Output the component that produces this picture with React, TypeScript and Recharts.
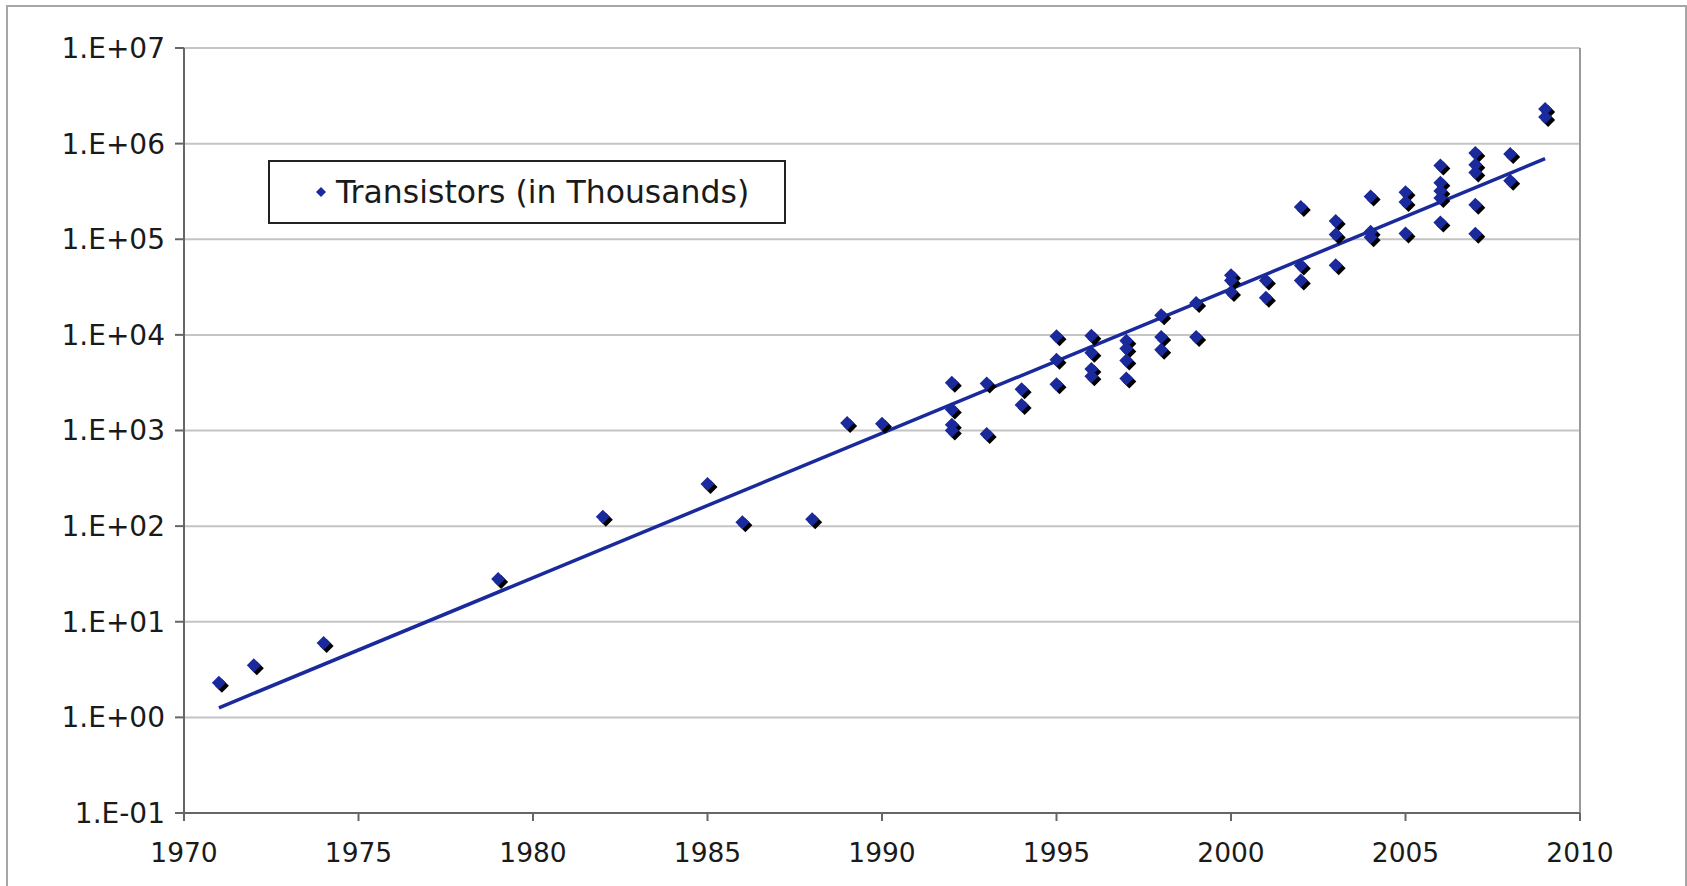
import React from "react";
import {
  ComposedChart,
  Scatter,
  Line,
  XAxis,
  YAxis,
  CartesianGrid,
  ReferenceLine,
} from "recharts";

// transistor counts (thousands), one entry per chip
const chipYears = [
  1971, 1972, 1974, 1979, 1982, 1985, 1986, 1988, 1989, 1990,
  1992, 1992, 1992, 1992, 1993, 1993, 1994, 1994,
  1995, 1995, 1995, 1996, 1996, 1996, 1996,
  1997, 1997, 1997, 1997, 1998, 1998, 1998, 1999, 1999,
  2000, 2000, 2000, 2001, 2001, 2002, 2002, 2002,
  2003, 2003, 2003, 2004, 2004, 2004, 2005, 2005, 2005,
  2006, 2006, 2006, 2006, 2006, 2007, 2007, 2007, 2007, 2007,
  2008, 2008, 2009, 2009,
];
const chipTransistors = [
  2.3, 3.5, 6, 28, 125, 275, 110, 118, 1200, 1180,
  3160, 1660, 1150, 1000, 3100, 920, 2700, 1850,
  9700, 5500, 3050, 9800, 6500, 4400, 3700,
  8700, 7200, 5400, 3500, 16000, 9500, 7000, 21500, 9500,
  42000, 37000, 28000, 37000, 24500, 218000, 53000, 37000,
  155000, 112000, 53500, 280000, 120000, 105000, 310000, 245000, 115000,
  590000, 390000, 320000, 270000, 150000, 800000, 600000, 500000, 230000, 114000,
  780000, 410000, 2300000, 1900000,
];

// exponential trendline ends
const trendYears = [1971, 2009];
const trendValues = [1.26, 695000];

const xTicks = [1970, 1975, 1980, 1985, 1990, 1995, 2000, 2005, 2010];
const yTicks = [0.1, 1, 10, 100, 1000, 10000, 100000, 1000000, 10000000];

const chips = chipYears.map((year, i) => ({ year, value: chipTransistors[i] }));
const trend = trendYears.map((year, i) => ({ year, value: trendValues[i] }));

const FONT = "'DejaVu Sans', Verdana, sans-serif";
const BLUE = "#1a2a9c";

const formatPower = (v: number) => {
  const e = Math.round(Math.log10(v));
  const abs = Math.abs(e);
  return `1.E${e < 0 ? "-" : "+"}${abs < 10 ? "0" + abs : abs}`;
};

const Diamond = (props: any) => {
  const { cx, cy } = props;
  if (cx == null || cy == null) return null;
  const r = 7;
  const path = (x: number, y: number) =>
    `M${x},${y - r} L${x + r},${y} L${x},${y + r} L${x - r},${y} Z`;
  return (
    <g>
      <path d={path(cx + 3, cy + 3)} fill="#000" />
      <path d={path(cx, cy)} fill={BLUE} />
    </g>
  );
};

export default function App() {
  return (
    <div
      style={{
        position: "absolute",
        top: 0,
        left: 0,
        width: 1687,
        height: 886,
        overflow: "hidden",
        background: "#fff",
      }}
    >
      <div
        style={{
          position: "absolute",
          left: 6,
          top: 5,
          width: 1677,
          height: 920,
          border: "2px solid #a6a6a6",
        }}
      />
      <div style={{ position: "absolute", left: 0, top: 0 }}>
        <ComposedChart
          width={1687}
          height={886}
          margin={{ top: 48, right: 107, left: 84, bottom: 23 }}
        >
          <CartesianGrid vertical={false} stroke="#c4c4c4" strokeWidth={2} />
          <XAxis
            dataKey="year"
            type="number"
            domain={[1970, 2010]}
            ticks={xTicks}
            allowDataOverflow
            height={50}
            stroke="#666"
            strokeWidth={2}
            tickSize={8}
            tickMargin={22}
            tick={{ fill: "#1a1a1a", fontSize: 26.5, fontFamily: FONT }}
          />
          <YAxis
            dataKey="value"
            scale="log"
            domain={[0.1, 10000000]}
            ticks={yTicks}
            allowDataOverflow
            width={100}
            stroke="#666"
            strokeWidth={2}
            tickSize={9}
            tickMargin={10}
            tickFormatter={formatPower}
            tick={{ fill: "#1a1a1a", fontSize: 28, fontFamily: FONT }}
          />
          <ReferenceLine x={2010} stroke="#9a9a9a" strokeWidth={2} />
          <Line
            data={trend}
            dataKey="value"
            stroke={BLUE}
            strokeWidth={3.5}
            dot={false}
            isAnimationActive={false}
          />
          <Scatter
            data={chips}
            dataKey="value"
            shape={Diamond}
            isAnimationActive={false}
          />
        </ComposedChart>
      </div>
      <div
        style={{
          position: "absolute",
          left: 268,
          top: 160,
          width: 514,
          height: 60,
          border: "2px solid #222",
          display: "flex",
          alignItems: "center",
          fontFamily: FONT,
          fontSize: 31.5,
          color: "#1a1a1a",
          boxSizing: "content-box",
        }}
      >
        <svg width={12} height={12} style={{ marginLeft: 45, marginRight: 9 }}>
          <path d="M6,1 L11,6 L6,11 L1,6 Z" fill={BLUE} />
        </svg>
        <span>Transistors (in Thousands)</span>
      </div>
    </div>
  );
}
